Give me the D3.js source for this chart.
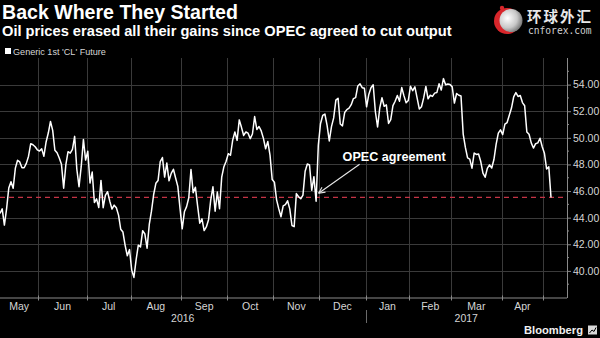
<!DOCTYPE html>
<html>
<head>
<meta charset="utf-8">
<script src="https://cdn.jsdelivr.net/npm/d3@7"></script>
<style>
  html, body { margin: 0; padding: 0; background: #000; }
  svg { display: block; }
</style>
</head>
<body>
<svg id="chart" width="600" height="338"></svg>
<script>
// ---- Data -------------------------------------------------------------
const titleText = "Back Where They Started";
const subtitleText = "Oil prices erased all their gains since OPEC agreed to cut output";
const seriesName = "Generic 1st 'CL' Future";

// Month buckets of the trading-day axis (May 2016 starts on the 5th, May 2017 ends on the 4th)
const monthLabels = ["May", "Jun", "Jul", "Aug", "Sep", "Oct", "Nov", "Dec", "Jan", "Feb", "Mar", "Apr", "May"];
const sessionsPerMonth = [18, 22, 20, 23, 21, 21, 21, 21, 20, 19, 23, 19, 4];
const yearLabels = ["2016", "2017"];
const monthsPerYear = [8, 5];

const yTicks = [40, 42, 44, 46, 48, 50, 52, 54];
const yMinorTicks = [39, 41, 43, 45, 47, 49, 51, 53, 55];

// Daily settlement, USD per barrel, one value per trading session
const prices = [
  // May 2016
  44.32, 44.66, 43.44, 44.66, 46.23, 46.70, 46.21, 47.72, 48.31, 48.19, 47.75, 47.75, 48.08, 48.62, 49.56, 49.48, 49.33, 49.10,
  // Jun
  49.01, 49.17, 48.62, 49.69, 50.36, 51.23, 50.56, 49.07, 48.88, 48.49, 48.01, 46.21, 47.98, 48.96, 48.85, 49.13, 50.11, 47.64, 46.33, 47.85, 49.88, 48.33,
  // Jul
  48.99, 46.60, 47.43, 45.14, 45.41, 44.76, 46.80, 44.75, 45.68, 45.95, 45.24, 44.65, 44.94, 44.75, 44.19, 43.13, 42.92, 41.92, 41.14, 41.60,
  // Aug
  40.06, 39.51, 40.83, 41.93, 41.80, 43.02, 42.77, 41.71, 43.49, 44.49, 45.74, 46.58, 46.79, 48.22, 48.52, 47.05, 48.10, 46.77, 47.33, 47.64, 46.98, 46.35, 44.70,
  // Sep
  43.16, 44.44, 44.83, 45.50, 47.62, 45.88, 46.29, 44.90, 43.58, 43.91, 43.03, 43.30, 43.85, 45.34, 46.32, 44.48, 45.93, 44.67, 47.05, 47.83, 48.24,
  // Oct
  48.81, 48.69, 49.83, 50.44, 49.81, 51.35, 50.79, 50.18, 50.44, 50.35, 49.94, 50.29, 51.60, 50.63, 50.85, 50.52, 49.96, 49.18, 49.72, 48.70, 46.86,
  // Nov
  46.67, 45.34, 44.66, 44.07, 44.89, 44.98, 45.27, 44.66, 43.41, 43.32, 45.81, 45.57, 45.42, 45.69, 47.49, 48.03, 47.96, 46.06, 47.08, 45.23, 49.44,
  // Dec
  51.06, 51.68, 51.79, 50.93, 49.77, 50.84, 51.50, 52.83, 52.98, 51.04, 50.90, 51.90, 52.12, 52.23, 52.49, 52.95, 53.02, 53.90, 54.06, 53.77, 53.72,
  // Jan 2017
  52.33, 53.26, 53.76, 53.99, 51.96, 50.82, 52.25, 53.01, 52.37, 52.48, 51.08, 51.37, 52.42, 52.75, 53.18, 52.75, 53.78, 53.17, 52.63, 52.81,
  // Feb
  53.88, 53.54, 53.83, 53.01, 52.17, 52.34, 53.00, 53.86, 52.93, 53.20, 53.11, 53.36, 53.40, 54.06, 53.59, 54.45, 53.99, 54.05, 54.01,
  // Mar
  53.83, 52.61, 53.33, 53.20, 53.14, 50.28, 49.28, 48.49, 48.40, 47.72, 48.86, 48.75, 48.78, 48.22, 47.34, 47.04, 47.70, 47.97, 47.73, 48.37, 49.51, 50.35, 50.60,
  // Apr
  50.24, 51.03, 51.15, 51.70, 52.24, 53.08, 53.40, 53.11, 53.18, 52.65, 52.41, 50.44, 50.27, 49.62, 49.23, 49.56, 49.62, 49.97, 49.33,
  // May
  48.84, 47.66, 47.82, 45.52
];

const referenceLevel = prices[prices.length - 1];   // latest settlement, drawn as dashed line
const opecIndex = 144;                              // Nov 29, 2016 session, day before the agreement
const annotationText = "OPEC agreement";

// ---- Layout -----------------------------------------------------------
const W = 600, H = 338;
const plot = { left: 0, right: 567, top: 58, bottom: 297.5 };
const FONT = "'Liberation Sans', Arial, sans-serif";
const textGray = "#d6d6d6";
const gridColor = "#3a3a3a";
const axisColor = "#8a8a8a";

const svg = d3.select("#chart");
svg.append("rect").attr("width", W).attr("height", H).attr("fill", "#000");

const x = d3.scaleLinear().domain([0, prices.length - 1]).range([0, 551]);
const y = d3.scaleLinear().domain([38, 56]).range([plot.bottom, plot.top]);

// shrink/grow a text node's font so it spans a given width
function fitWidth(sel, width) {
  const node = sel.node();
  const fs = parseFloat(sel.attr("font-size"));
  const w = node.getComputedTextLength();
  sel.attr("font-size", (fs * width / w).toFixed(2));
  return sel;
}

// ---- Header -----------------------------------------------------------
fitWidth(svg.append("text").attr("x", 2).attr("y", 18.5)
  .attr("font-family", FONT).attr("font-weight", "bold").attr("font-size", 18)
  .attr("fill", "#fff").text(titleText), 236);

fitWidth(svg.append("text").attr("x", 2).attr("y", 35.5)
  .attr("font-family", FONT).attr("font-weight", "bold").attr("font-size", 14)
  .attr("fill", "#fff").text(subtitleText), 450);

// legend
svg.append("rect").attr("x", 5).attr("y", 48).attr("width", 6).attr("height", 6).attr("fill", "#fff");
fitWidth(svg.append("text").attr("x", 13).attr("y", 54.5)
  .attr("font-family", FONT).attr("font-size", 10)
  .attr("fill", textGray).text(seriesName), 93);

// cnforex mark
const logo = svg.append("g");
const grad = svg.append("defs").append("radialGradient").attr("id", "sphere")
  .attr("cx", "35%").attr("cy", "40%").attr("r", "70%");
grad.append("stop").attr("offset", "0%").attr("stop-color", "#ffffff");
grad.append("stop").attr("offset", "60%").attr("stop-color", "#c8c8c8");
grad.append("stop").attr("offset", "100%").attr("stop-color", "#6e6e6e");
logo.append("circle").attr("cx", 507).attr("cy", 21).attr("r", 13).attr("fill", "#d8262b");
logo.append("circle").attr("cx", 511).attr("cy", 20.5).attr("r", 11.5).attr("fill", "url(#sphere)");
logo.append("circle").attr("cx", 502).attr("cy", 8).attr("r", 2.2).attr("fill", "#d8262b");
logo.append("text").attr("x", 527).attr("y", 22).attr("font-family", "'Noto Sans CJK SC', sans-serif")
  .attr("font-size", 14.5).attr("font-weight", "bold").attr("letter-spacing", 2).attr("fill", "#e8e8e8").text("环球外汇");
logo.append("text").attr("x", 528).attr("y", 33.5).attr("font-family", "'DejaVu Sans Mono', monospace")
  .attr("font-size", 9.6).attr("fill", "#d0d0d0").text("cnforex.com");

// ---- Grid -------------------------------------------------------------
const monthStarts = Array.from(d3.cumsum([0, ...sessionsPerMonth.slice(0, -1)]));
const boundaryX = monthStarts.map((s, i) => i === 0 ? plot.left : x(s - 0.5));
const endX = monthStarts.map((s, i) => i < monthStarts.length - 1 ? boundaryX[i + 1] : plot.right);

svg.append("g").selectAll("line").data(yTicks).join("line")
  .attr("x1", plot.left).attr("x2", plot.right)
  .attr("y1", d => Math.round(y(d)) + 0.5).attr("y2", d => Math.round(y(d)) + 0.5)
  .attr("stroke", gridColor).attr("stroke-width", 1);

svg.append("g").selectAll("line").data(boundaryX.slice(1)).join("line")
  .attr("x1", d => Math.round(d) + 0.5).attr("x2", d => Math.round(d) + 0.5)
  .attr("y1", plot.top).attr("y2", plot.bottom)
  .attr("stroke", gridColor).attr("stroke-width", 1);

// reference line at the latest price
svg.append("line")
  .attr("x1", plot.left).attr("x2", plot.right)
  .attr("y1", y(referenceLevel)).attr("y2", y(referenceLevel))
  .attr("stroke", "#c43446").attr("stroke-width", 1.3).attr("stroke-dasharray", "5,4");

// ---- Axes -------------------------------------------------------------
// x axis baseline and month ticks
svg.append("line").attr("x1", plot.left).attr("x2", plot.right)
  .attr("y1", plot.bottom + 0.5).attr("y2", plot.bottom + 0.5)
  .attr("stroke", axisColor).attr("stroke-width", 1);
svg.append("g").selectAll("line").data(boundaryX.slice(1)).join("line")
  .attr("x1", d => Math.round(d) + 0.5).attr("x2", d => Math.round(d) + 0.5)
  .attr("y1", plot.bottom - 2).attr("y2", plot.bottom + 3)
  .attr("stroke", axisColor);

const monthG = svg.append("g").attr("font-family", FONT).attr("font-size", 10.5)
  .attr("fill", textGray).attr("text-anchor", "middle");
monthG.selectAll("text").data(monthLabels.map((m, i) => ({ m, a: boundaryX[i], b: endX[i] }))
  .filter(d => d.b - d.a > 30)).join("text")
  .attr("x", d => (d.a + d.b) / 2).attr("y", 309.5).text(d => d.m);

// year labels and separator
const yearStartMonth = Array.from(d3.cumsum([0, ...monthsPerYear.slice(0, -1)]));
const years = yearLabels.map((label, i) => {
  const a = boundaryX[yearStartMonth[i]];
  const last = yearStartMonth[i] + monthsPerYear[i] - 1;
  return { label, a, b: endX[last] };
});
monthG.selectAll(".yr").data(years).join("text").attr("class", "yr")
  .attr("x", d => (d.a + d.b) / 2).attr("y", 321.5).text(d => d.label);
svg.append("g").selectAll("line").data(years.slice(1)).join("line")
  .attr("x1", d => Math.round(d.a) + 0.5).attr("x2", d => Math.round(d.a) + 0.5)
  .attr("y1", 310).attr("y2", 323).attr("stroke", "#6a6a6a");

// right value axis
const yAxis = svg.append("g").attr("transform", `translate(${plot.right},0)`)
  .call(d3.axisRight(y).tickValues(yTicks).tickFormat(d3.format(".2f")).tickSize(4).tickPadding(2));
yAxis.select(".domain").remove();
yAxis.selectAll("line").attr("stroke", axisColor);
yAxis.selectAll("text").attr("font-family", FONT).attr("font-size", 10.5).attr("fill", textGray);
yAxis.append("g").selectAll("line").data(yMinorTicks).join("line")
  .attr("x1", 0).attr("x2", 2).attr("y1", d => y(d)).attr("y2", d => y(d)).attr("stroke", axisColor);
svg.append("line").attr("x1", plot.right + 0.5).attr("x2", plot.right + 0.5)
  .attr("y1", plot.top).attr("y2", plot.bottom + 0.5).attr("stroke", axisColor);

// ---- Price line -------------------------------------------------------
const line = d3.line().x((d, i) => x(i)).y(d => y(d));
svg.append("path").datum(prices).attr("d", line)
  .attr("fill", "none").attr("stroke", "#fff").attr("stroke-width", 1.5)
  .attr("stroke-linejoin", "round");

// ---- Annotation -------------------------------------------------------
const tip = { x: x(opecIndex) + 2.5, y: y(prices[opecIndex]) - 8 };
const tail = { x: tip.x + 41, y: tip.y - 29 };
const ann = svg.append("g").attr("stroke", "#e8e8e8").attr("stroke-width", 1.1).attr("fill", "none");
ann.append("line").attr("x1", tail.x).attr("y1", tail.y).attr("x2", tip.x).attr("y2", tip.y);
const ang = Math.atan2(tail.y - tip.y, tail.x - tip.x);
[0.45, -0.45].forEach(o => {
  ann.append("line").attr("x1", tip.x).attr("y1", tip.y)
    .attr("x2", tip.x + 7 * Math.cos(ang + o)).attr("y2", tip.y + 7 * Math.sin(ang + o));
});
fitWidth(svg.append("text").attr("x", tip.x + 24).attr("y", tail.y - 3)
  .attr("font-family", FONT).attr("font-weight", "bold").attr("font-size", 12)
  .attr("fill", "#fff").text(annotationText), 103);

// ---- Footer -----------------------------------------------------------
fitWidth(svg.append("text").attr("x", 524).attr("y", 334)
  .attr("font-family", FONT).attr("font-weight", "bold").attr("font-size", 12)
  .attr("fill", "#f0f0f0").text("Bloomberg"), 59);
svg.append("rect").attr("x", 588).attr("y", 325.5).attr("width", 9).attr("height", 9)
  .attr("fill", "#d8d8d8");
svg.append("path").attr("d", "M589.5,333 L592,330 L594,331.5 L596,327.5")
  .attr("fill", "none").attr("stroke", "#000").attr("stroke-width", 1);
</script>
</body>
</html>
